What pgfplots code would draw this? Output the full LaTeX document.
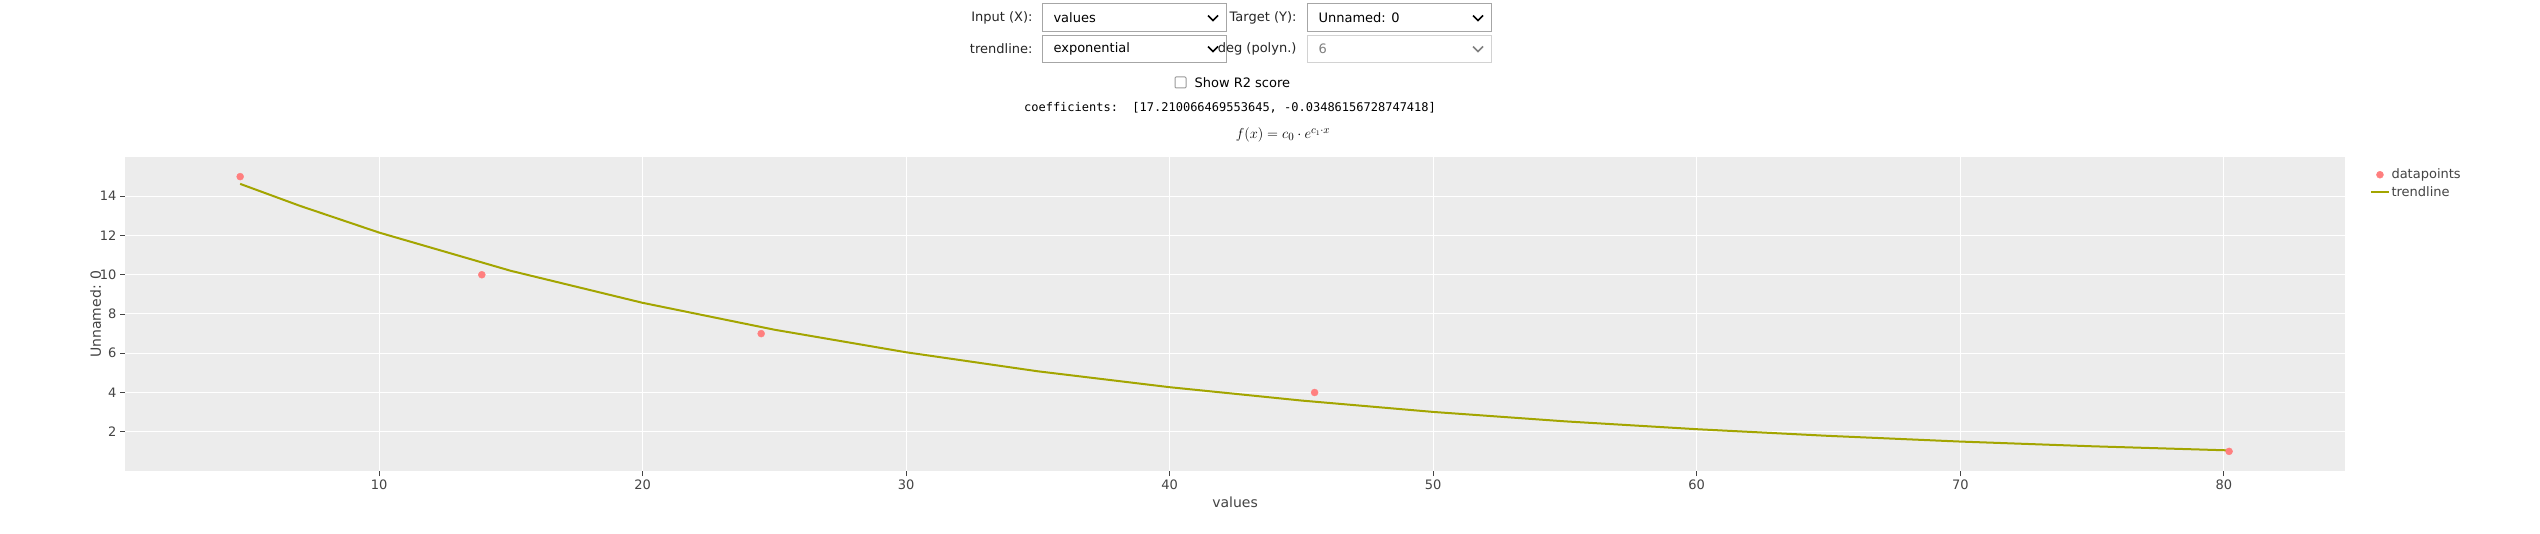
\documentclass[border=0pt]{standalone}
\usepackage{pgfplots}
\pgfplotsset{compat=1.18}
\usepackage{fontspec}
\setmainfont{DejaVu Sans}
\setmonofont{DejaVu Sans Mono}
\definecolor{bgc}{HTML}{ECECEC}
\definecolor{ptc}{HTML}{FF7F7F}
\definecolor{lnc}{HTML}{A3A500}
\definecolor{txt}{HTML}{444444}
\begin{document}
\begin{tikzpicture}[x=1pt,y=1pt]
\useasboundingbox[fill=white] (0,0) rectangle (2540,533);
% controls
\tikzset{box/.style={draw=gray!70,line width=1pt},lab/.style={anchor=east,font=\fontsize{13}{15}\selectfont,text=black!85}}
\draw[box] (1042,501) rectangle (1226,529);
\draw[box] (1307,501) rectangle (1491,529);
\draw[box] (1042,470) rectangle (1226,497);
\draw[draw=gray!35,line width=1pt] (1307,470) rectangle (1491,497);
\node[lab] at (1036,515) {Input (X):};
\node[lab] at (1300,515) {Target (Y):};
\node[lab] at (1036,484) {trendline:};
\node[lab] at (1300,484) {deg (polyn.)};
\node[anchor=west,font=\fontsize{13}{15}\selectfont] at (1050,515) {values};
\node[anchor=west,font=\fontsize{13}{15}\selectfont] at (1315,515) {Unnamed: 0};
\node[anchor=west,font=\fontsize{13}{15}\selectfont] at (1050,484) {exponential};
\node[anchor=west,font=\fontsize{13}{15}\selectfont,text=gray] at (1315,484) {6};
\foreach \cx/\cy/\c in {1213/515/black,1478/515/black,1213/484/black,1478/484/gray}{
  \draw[\c,line width=1.5pt] (\cx-5,\cy+2.5) -- (\cx,\cy-2.5) -- (\cx+5,\cy+2.5);}
\draw[gray!80,line width=1pt,rounded corners=1pt] (1175,445) rectangle (1186,456);
\node[anchor=west,font=\fontsize{13}{15}\selectfont] at (1191,450.5) {Show R2 score};
\node[font=\ttfamily\fontsize{12}{14}\selectfont] at (1230,425) {coefficients:\ \ [17.210066469553645, -0.03486156728747418]};
\node[font=\rmfamily\fontsize{15}{17}\selectfont] at (1283,398) {\fontspec{Latin Modern Roman}$f(x) = c_0\cdot e^{c_1\cdot x}$};
\begin{axis}[
  at={(125pt,62pt)}, anchor=south west,
  scale only axis, width=2220pt, height=314pt,
  xmin=0.36, xmax=84.6, ymin=0, ymax=16,
  axis background/.style={fill=bgc},
  axis line style={draw=none},
  grid=major, grid style={white,line width=1pt},
  xtick={10,20,...,80}, ytick={2,4,...,14},
  tick align=outside, tick pos=left,
  major tick length=5pt,
  tick style={txt,line width=0.8pt},
  ticklabel style={font=\fontsize{13}{15}\selectfont,text=txt},
  /pgf/number format/assume math mode=true,
  xlabel={values}, ylabel={Unnamed: 0},
  label style={font=\fontsize{14}{16}\selectfont,text=txt},
  xlabel style={at={(axis description cs:0.5,0)},yshift=-22pt},
  ylabel style={yshift=-8pt},
  legend style={at={(1.01,0.975)},anchor=north west,draw=none,fill=none,
    font=\fontsize{13}{15}\selectfont,text=txt,row sep=2pt},
  legend cell align=left,
]
\addplot[only marks,mark=*,mark size=3.5pt,color=ptc] coordinates {
(4.73,15) (13.9,10) (24.5,7) (45.5,4) (80.2,1)};
\addlegendentry{datapoints}
\addplot[lnc,line width=2pt] coordinates {
(4.73,14.63) (7,13.51) (10,12.15) (15,10.20) (20,8.57) (25,7.20) (30,6.05)
(35,5.08) (40,4.27) (45,3.59) (50,3.01) (55,2.53) (60,2.13) (65,1.79)
(70,1.50) (75,1.26) (80.2,1.05)};
\addlegendentry{trendline}
\end{axis}
\end{tikzpicture}
\end{document}
